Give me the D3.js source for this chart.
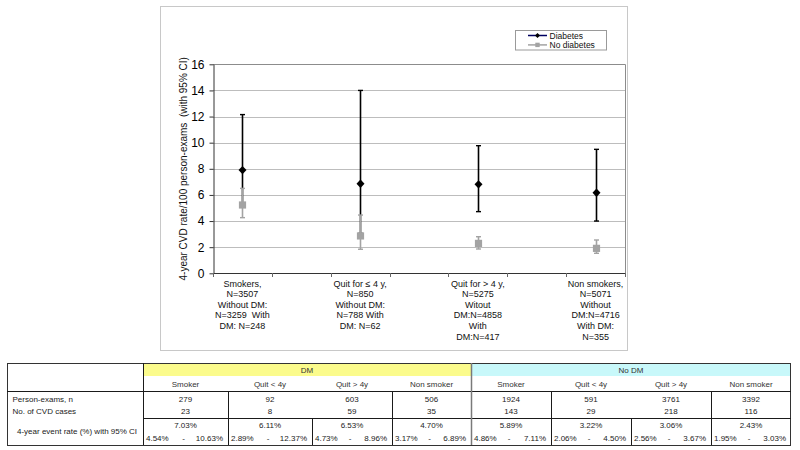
<!DOCTYPE html>
<html>
<head>
<meta charset="utf-8">
<script src="https://cdn.jsdelivr.net/npm/d3@7"></script>
<style>
  body { margin: 0; background: #fff; }
  svg { display: block; font-family: Arial, "Liberation Sans", sans-serif; }
  text { white-space: pre; }
</style>
</head>
<body>
<svg id="chart" width="800" height="450"></svg>
<script>
// ---------- DATA ----------
const axisSlots = ["Smokers", "gap1", "Quit for ≤ 4 y", "gap2", "Quit for > 4 y", "gap3", "Non smokers"];
const categories = ["Smokers", "Quit for ≤ 4 y", "Quit for > 4 y", "Non smokers"];
const categoryLabelLines = [
  ["Smokers,", "N=3507", "Without DM:", "N=3259  With", "DM: N=248"],
  ["Quit for ≤ 4 y,", "N=850", "Without DM:", "N=788 With", "DM: N=62"],
  ["Quit for > 4 y,", "N=5275", "Witout", "DM:N=4858", "With", "DM:N=417"],
  ["Non smokers,", "N=5071", "Without", "DM:N=4716", "With DM:", "N=355"]
];
const diabetesRate = [7.9, 6.86, 6.81, 6.17];
const diabetesLow = [5.1, 3.05, 4.72, 4.0];
const diabetesHigh = [12.15, 14.0, 9.77, 9.49];
const noDiabetesRate = [5.23, 2.86, 2.29, 1.91];
const noDiabetesLow = [4.26, 1.84, 1.86, 1.53];
const noDiabetesHigh = [6.5, 4.46, 2.8, 2.55];
const yTicks = [0, 2, 4, 6, 8, 10, 12, 14, 16];
const seriesNames = ["Diabetes", "No diabetes"];
const yTitle = "4-year CVD rate/100 person-exams  (with 95% CI)";

// table
const tableGroups = ["DM", "No DM"];
const tableCols = ["Smoker", "Quit < 4y", "Quit > 4y", "Non smoker"];
const rowLabels = ["Person-exams, n", "No. of CVD cases", "4-year event rate (%) with 95% CI"];
const personExams = [279, 92, 603, 506, 1924, 591, 3761, 3392];
const cvdCases = [23, 8, 59, 35, 143, 29, 218, 116];
const eventRate = ["7.03%", "6.11%", "6.53%", "4.70%", "5.89%", "3.22%", "3.06%", "2.43%"];
const ciLow = ["4.54%", "2.89%", "4.73%", "3.17%", "4.86%", "2.06%", "2.56%", "1.95%"];
const ciHigh = ["10.63%", "12.37%", "8.96%", "6.89%", "7.11%", "4.50%", "3.67%", "3.03%"];

// ---------- CHART ----------
const svg = d3.select("#chart");
const plot = { left: 213, right: 625, top: 64.3, bottom: 273.3 };

// outer chart box
svg.append("rect").attr("x", 160.5).attr("y", 6.5).attr("width", 467).attr("height", 344)
  .attr("fill", "#fff").attr("stroke", "#c8c8c8").attr("stroke-width", 1);

const x = d3.scaleBand().domain(axisSlots).range([plot.left, plot.right]).padding(0);
const y = d3.scaleLinear().domain([0, 16]).range([plot.bottom, plot.top]);

// gridlines
svg.append("g").selectAll("line").data(yTicks.filter(d => d > 0)).join("line")
  .attr("x1", plot.left).attr("x2", plot.right)
  .attr("y1", d => Math.round(y(d)) + 0.5).attr("y2", d => Math.round(y(d)) + 0.5)
  .attr("stroke", "#bdbdbd").attr("stroke-width", 1);

// plot border (top/right)
svg.append("path")
  .attr("d", `M${plot.left},${Math.round(plot.top) + 0.5}H${plot.right + 0.5}V${plot.bottom}`)
  .attr("fill", "none").attr("stroke", "#8c8c8c").attr("stroke-width", 1);

// y axis
const yAxis = svg.append("g").attr("transform", `translate(${plot.left + 0.5},0)`)
  .call(d3.axisLeft(y).tickValues(yTicks).tickSize(4).tickPadding(5).tickSizeOuter(0));
yAxis.select(".domain").attr("stroke", "#333");
yAxis.selectAll(".tick line").attr("stroke", "#333");
yAxis.selectAll(".tick text").attr("font-size", 12).attr("fill", "#000")
  .attr("font-family", "Arial, 'Liberation Sans', sans-serif");

// x axis baseline + boundary ticks
const xAxis = svg.append("g");
xAxis.append("line").attr("x1", plot.left).attr("x2", plot.right + 0.5)
  .attr("y1", Math.round(plot.bottom) + 0.5).attr("y2", Math.round(plot.bottom) + 0.5)
  .attr("stroke", "#333");
const boundaries = axisSlots.map(s => x(s)).concat([x.range()[1]]);
xAxis.selectAll("line.tk").data(boundaries).join("line").attr("class", "tk")
  .attr("x1", d => Math.round(d) + 0.5).attr("x2", d => Math.round(d) + 0.5)
  .attr("y1", Math.round(plot.bottom)).attr("y2", Math.round(plot.bottom) + 4)
  .attr("stroke", "#666");

// category labels
categories.forEach((c, i) => {
  const cx = x(c) + x.bandwidth() / 2;
  const t = svg.append("text").attr("text-anchor", "middle").attr("font-size", 9).attr("fill", "#111");
  categoryLabelLines[i].forEach((line, j) => {
    t.append("tspan").attr("x", cx).attr("y", 286.5 + j * 10.6).text(line);
  });
});

// y title
svg.append("text")
  .attr("transform", `translate(184,${(plot.top + plot.bottom) / 2}) rotate(-90)`)
  .attr("text-anchor", "middle").attr("dominant-baseline", "middle")
  .attr("font-size", 10).attr("fill", "#111").text(yTitle);

// series drawing
function drawSeries(rate, low, high, color, marker) {
  const g = svg.append("g");
  categories.forEach((c, i) => {
    const cx = Math.round(x(c) + x.bandwidth() / 2) + 0.5;
    g.append("line").attr("x1", cx).attr("x2", cx).attr("y1", y(low[i])).attr("y2", y(high[i]))
      .attr("stroke", color).attr("stroke-width", 1.6);
    [low[i], high[i]].forEach(v => {
      g.append("line").attr("x1", cx - 2.5).attr("x2", cx + 2.5).attr("y1", y(v)).attr("y2", y(v))
        .attr("stroke", color).attr("stroke-width", 1.4);
    });
    if (marker === "diamond") {
      const cy = y(rate[i]);
      g.append("path").attr("d", `M${cx},${cy - 4.2}L${cx + 4},${cy}L${cx},${cy + 4.2}L${cx - 4},${cy}Z`)
        .attr("fill", "#000");
    } else {
      g.append("rect").attr("x", cx - 3.6).attr("y", y(rate[i]) - 3.6).attr("width", 7.2).attr("height", 7.2)
        .attr("fill", "#a3a3a3");
    }
  });
}
drawSeries(diabetesRate, diabetesLow, diabetesHigh, "#000", "diamond");
drawSeries(noDiabetesRate, noDiabetesLow, noDiabetesHigh, "#a3a3a3", "square");

// legend
const lg = svg.append("g");
lg.append("rect").attr("x", 515.5).attr("y", 30.5).attr("width", 91).attr("height", 19.5)
  .attr("fill", "#fff").attr("stroke", "#9a9a9a");
const legendColors = ["#000060", "#a3a3a3"];
seriesNames.forEach((name, i) => {
  const ly = 35.5 + i * 9.4;
  lg.append("line").attr("x1", 528).attr("x2", 547).attr("y1", ly).attr("y2", ly)
    .attr("stroke", legendColors[i]).attr("stroke-width", 1.5);
  if (i === 0) {
    lg.append("path").attr("d", `M537.5,${ly - 2.6}L540,${ly}L537.5,${ly + 2.6}L535,${ly}Z`).attr("fill", "#000");
  } else {
    lg.append("rect").attr("x", 535.3).attr("y", ly - 2.2).attr("width", 4.4).attr("height", 4.4).attr("fill", "#a3a3a3");
  }
  lg.append("text").attr("x", 549.5).attr("y", ly).attr("dominant-baseline", "central")
    .attr("font-size", 8.5).attr("fill", "#111").text(name);
});

// ---------- TABLE ----------
const T = { left: 7, labelRight: 143, right: 791, top: 363, headBottom: 376, subBottom: 391, cvdBottom: 418, bottom: 445 };
const colEdges = [143, 228, 312, 392, 471, 551, 631, 711, 791];
const tg = svg.append("g").attr("font-size", 8).attr("fill", "#222");

// header fills
tg.append("rect").attr("x", colEdges[0]).attr("y", T.top).attr("width", colEdges[4] - colEdges[0])
  .attr("height", T.headBottom - T.top).attr("fill", "#fbfb8c");
tg.append("rect").attr("x", colEdges[4]).attr("y", T.top).attr("width", colEdges[8] - colEdges[4])
  .attr("height", T.headBottom - T.top).attr("fill", "#c8f8fa");

// group headers
tableGroups.forEach((gname, gi) => {
  const x0 = colEdges[gi * 4], x1 = colEdges[gi * 4 + 4];
  tg.append("text").attr("x", (x0 + x1) / 2).attr("y", 370).attr("text-anchor", "middle")
    .attr("dominant-baseline", "central").attr("fill", "#333").text(gname);
});

// per-column
for (let k = 0; k < 8; k++) {
  const x0 = colEdges[k], x1 = colEdges[k + 1], cx = (x0 + x1) / 2;
  tg.append("text").attr("x", cx).attr("y", 384.5).attr("text-anchor", "middle").attr("dominant-baseline", "central")
    .attr("fill", "#333").text(tableCols[k % 4]);
  tg.append("text").attr("x", cx).attr("y", 399).attr("text-anchor", "middle").attr("dominant-baseline", "central")
    .text(personExams[k]);
  tg.append("text").attr("x", cx).attr("y", 411.7).attr("text-anchor", "middle").attr("dominant-baseline", "central")
    .text(cvdCases[k]);
  tg.append("text").attr("x", cx).attr("y", 425.5).attr("text-anchor", "middle").attr("dominant-baseline", "central")
    .text(eventRate[k]);
  tg.append("text").attr("x", x0 + 3).attr("y", 438.8).attr("dominant-baseline", "central").text(ciLow[k]);
  tg.append("text").attr("x", cx - 2).attr("y", 438.8).attr("text-anchor", "middle").attr("dominant-baseline", "central").text("-");
  tg.append("text").attr("x", x1 - 5).attr("y", 438.8).attr("text-anchor", "end").attr("dominant-baseline", "central").text(ciHigh[k]);
}

// row labels
tg.append("text").attr("x", 12.5).attr("y", 399).attr("dominant-baseline", "central").text(rowLabels[0]);
tg.append("text").attr("x", 12.5).attr("y", 411.7).attr("dominant-baseline", "central").text(rowLabels[1]);
tg.append("text").attr("x", 17).attr("y", 431.7).attr("dominant-baseline", "central").text(rowLabels[2]);

// borders
const lines = tg.append("g").attr("stroke", "#1a1a1a").attr("stroke-width", 1).attr("fill", "none");
lines.append("rect").attr("x", T.left + 0.5).attr("y", T.top + 0.5).attr("width", T.right - T.left - 1)
  .attr("height", T.bottom - T.top).attr("stroke", "#333");
lines.append("line").attr("x1", T.labelRight + 0.5).attr("x2", T.labelRight + 0.5).attr("y1", T.top).attr("y2", T.bottom);
lines.append("line").attr("x1", T.left).attr("x2", T.right).attr("y1", T.subBottom + 0.5).attr("y2", T.subBottom + 0.5);
lines.append("line").attr("x1", T.labelRight).attr("x2", T.right).attr("y1", T.cvdBottom + 0.5).attr("y2", T.cvdBottom + 0.5);
[1, 3, 5, 7].forEach(k => {
  lines.append("line").attr("x1", colEdges[k] + 0.5).attr("x2", colEdges[k] + 0.5).attr("y1", T.subBottom).attr("y2", T.bottom);
});
[2, 6].forEach(k => {
  lines.append("line").attr("x1", colEdges[k] + 0.5).attr("x2", colEdges[k] + 0.5).attr("y1", T.cvdBottom).attr("y2", T.bottom);
});
lines.append("line").attr("x1", colEdges[4] + 0.5).attr("x2", colEdges[4] + 0.5).attr("y1", T.top).attr("y2", T.bottom)
  .attr("stroke", "#7a7a7a").attr("stroke-width", 1.5);
</script>
</body>
</html>
